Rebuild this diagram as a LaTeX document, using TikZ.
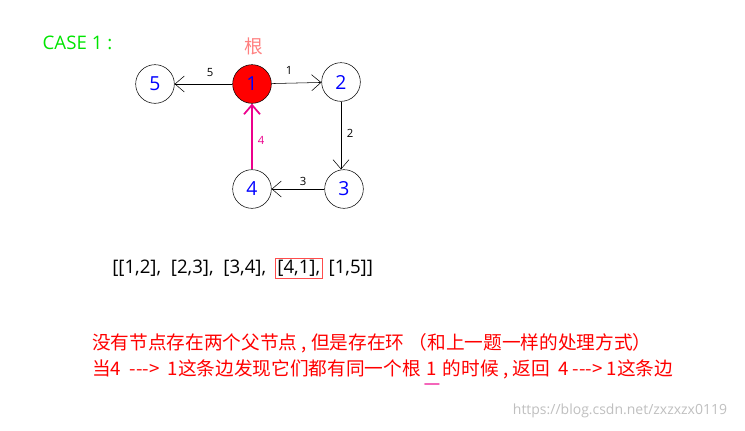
\documentclass[tikz,border=0pt]{standalone}
\usepackage{fontspec}
\setmainfont{Open Sans}
\newfontfamily\cjk{Noto Sans CJK SC}
\usetikzlibrary{arrows.meta}
\begin{document}
\begin{tikzpicture}[x=0.75pt,y=-0.75pt,
  vert/.style={circle,draw,minimum size=29pt,inner sep=0pt,text=blue,font=\fontsize{14.5}{14.5}\selectfont},
  edge/.style={draw,-{Straight Barb[length=7pt,width=12pt]}},
  elab/.style={font=\fontsize{8.5}{9}\selectfont},
  lst/.style={font=\fontsize{14}{14}\selectfont,inner sep=1.5pt},
  red txt/.style={text=red,font=\cjk\fontsize{14}{14}\selectfont,inner sep=0pt}]
\useasboundingbox (0,0) rectangle (745,430);
\node[text=green!90!black,font=\fontsize{14}{14}\selectfont,anchor=west] (case) at (38,43) {CASE 1 :};
\node[text=red!50!white,font=\cjk\fontsize{14}{14}\selectfont] (gen) at (254,46) {根};
\node[vert] (n5) at (155,84) {5};
\node[vert,fill=red] (n1) at (252,84) {1};
\node[vert] (n2) at (341,82) {2};
\node[vert] (n3) at (344,189) {3};
\node[vert] (n4) at (252,189) {4};
\draw[edge] (n1) -- (n5);
\draw[edge] (n1) -- (n2);
\draw[edge] (n2) -- (n2|-n3.north);
\draw[edge] (n3) -- (n4);
\draw[edge,magenta,line width=1.3pt] (n4) -- (n1);
\node[elab] (l5) at (210,73) {5};
\node[elab] (l1) at (289,70) {1};
\node[elab] (l2) at (350,133) {2};
\node[elab] (l3) at (303,181) {3};
\node[elab,text=magenta] (l4) at (261,140) {4};
\node[lst,anchor=west] (la) at (110,268) {[[1,2],\ \ [2,3],\ \ [3,4],};
\node[lst,anchor=west,draw=red!70!white] (lb) at ([xshift=5pt]la.east) {[4,1],};
\node[lst,anchor=west] (lc) at ([xshift=3pt]lb.east) {[1,5]]};
\node[red txt,anchor=west] (t1) at (92,343) {没有节点存在两个父节点 , 但是存在环 （和上一题一样的处理方式）};
\node[red txt,anchor=base west] (t2a) at ([yshift=-20pt]t1.base west) {当4 \ ---> \ 1这条边发现它们都有同一个根};
\node[red txt,anchor=base west] (t2b) at ([xshift=4pt]t2a.base east) {1};
\node[red txt,anchor=base west] (t2c) at ([xshift=4pt]t2b.base east) {的时候 , 返回 \ 4 ---> 1这条边};
\draw[magenta!60!white,line width=1.8pt,line cap=round] ([xshift=-1pt,yshift=-6pt]t2b.south west) -- ([xshift=1pt,yshift=-6pt]t2b.south east);
\node[text=black!25,font=\fontsize{10.5}{10.5}\selectfont] (wm) at (620,411) {https://blog.csdn.net/zxzxzx0119};
\end{tikzpicture}
\end{document}
